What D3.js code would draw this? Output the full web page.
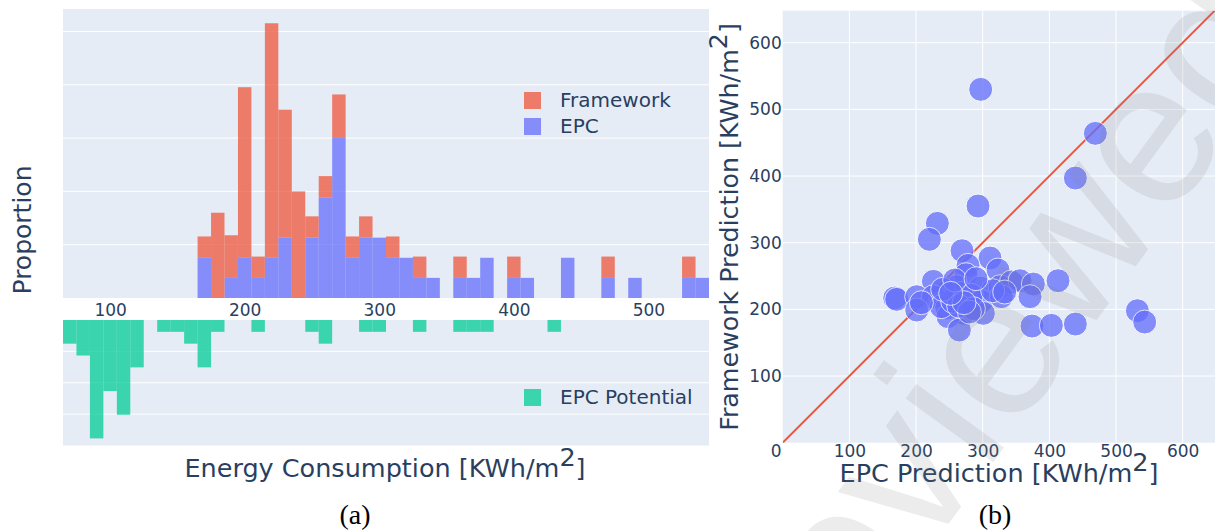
<!doctype html>
<html>
<head>
<meta charset="utf-8">
<script src="https://d3js.org/d3.v7.min.js"></script>
<style>
  body { margin: 0; background: #fff; }
  text { font-family: "DejaVu Sans", Verdana, sans-serif; fill: #2a3f5f; }
</style>
</head>
<body>
<svg id="chart" width="1215" height="531"></svg>
<script>
// histogram bins (lower edge, width 10 kWh/m2)
var binStart = [65, 75, 85, 95, 105, 115, 125, 135, 145, 155,
                165, 175, 185, 195, 205, 215, 225, 235, 245, 255,
                265, 275, 285, 295, 305, 315, 325, 335, 345, 355,
                365, 375, 385, 395, 405, 415, 425, 435, 445, 455,
                465, 475, 485, 495, 505, 515, 525, 535];
var binWidth = 10;

// counts per bin, normalised to proportions below
var epcCounts = [0, 0, 0, 0, 0, 0, 0, 0, 0, 0,
                 2, 0, 1, 2, 1, 2, 3, 0, 3, 5,
                 8, 2, 3, 3, 2, 2, 1, 1, 0, 1,
                 1, 2, 0, 1, 1, 0, 0, 2, 0, 0,
                 1, 0, 1, 0, 0, 0, 1, 1];
var frameworkCounts = [0, 0, 0, 0, 0, 0, 0, 0, 0, 0,
                       1, 4, 2, 8, 1, 11, 6, 5, 1, 1,
                       2, 1, 1, 0, 1, 0, 1, 0, 0, 1,
                       0, 0, 0, 1, 0, 0, 0, 0, 0, 0,
                       1, 0, 0, 0, 0, 0, 1, 0];
var potentialCounts = [2, 3, 10, 6, 8, 4, 0, 1, 1, 2,
                       4, 1, 0, 0, 1, 0, 0, 0, 1, 2,
                       0, 0, 1, 1, 0, 0, 1, 0, 0, 1,
                       1, 1, 0, 0, 0, 0, 1, 0, 0, 0,
                       0, 0, 0, 0, 0, 0, 0, 0];

var histTicks = [100, 200, 300, 400, 500];
var propGrid = [0.05, 0.1, 0.15, 0.2, 0.25];
var potentialGrid = [0.05, 0.1, 0.15];

// scatter: EPC prediction (x) vs framework prediction (y)
var epcPrediction = [297, 469, 439, 293, 232, 220, 269, 311, 278, 323,
                     275, 226, 261, 296, 326, 343, 356, 376, 413, 371,
                     168, 171, 201, 226, 268, 298, 328, 201, 246, 271,
                     301, 248, 265, 238, 374, 403, 439, 532, 543, 283,
                     255, 264, 286, 315, 240, 258, 290, 333, 280, 208,
                     272, 252];
var frameworkPrediction = [530, 464, 397, 355, 329, 305, 288, 277, 266, 259,
                           252, 242, 234, 232, 234, 241, 243, 238, 243, 219,
                           217, 215, 219, 219, 224, 212, 219, 199, 202, 194,
                           194, 189, 169, 204, 175, 176, 178, 198, 181, 221,
                           212, 205, 201, 228, 230, 244, 246, 226, 196, 210,
                           210, 224];
var scatterTicks = [0, 100, 200, 300, 400, 500, 600];

var svg = d3.select("#chart");
var bg = "#e5ecf6";
var red = "#EF553B", blue = "#636EFA", green = "#00CC96";

// ---------------- (a) histograms ----------------
var x = d3.scaleLinear().domain([65, 545]).range([63, 709]);
var yTop = d3.scaleLinear().domain([0, 0.2711]).range([298, 9]);
var yBot = d3.scaleLinear().domain([0, 0.2]).range([320, 445.5]);

var epcTotal = d3.sum(epcCounts),
    fwTotal = d3.sum(frameworkCounts),
    potTotal = d3.sum(potentialCounts);

var bins = binStart.map(function(s, i) {
  return {
    x0: s, x1: s + binWidth,
    epc: epcCounts[i] / epcTotal,
    fw: frameworkCounts[i] / fwTotal,
    pot: potentialCounts[i] / potTotal
  };
});

svg.append("rect").attr("x", 63).attr("y", 9).attr("width", 646).attr("height", 289).attr("fill", bg);
svg.append("rect").attr("x", 63).attr("y", 320).attr("width", 646).attr("height", 125.5).attr("fill", bg);

svg.append("g").selectAll("line").data(propGrid).enter().append("line")
  .attr("x1", 63).attr("x2", 709)
  .attr("y1", function(d) { return yTop(d); }).attr("y2", function(d) { return yTop(d); })
  .attr("stroke", "#fff").attr("stroke-width", 1);

svg.append("g").selectAll("line").data(potentialGrid).enter().append("line")
  .attr("x1", 63).attr("x2", 709)
  .attr("y1", function(d) { return yBot(d); }).attr("y2", function(d) { return yBot(d); })
  .attr("stroke", "#fff").attr("stroke-width", 1);

// stacked: EPC at the bottom, Framework on top
svg.append("g").selectAll("rect").data(bins.filter(function(d) { return d.epc > 0; }))
  .enter().append("rect")
  .attr("x", function(d) { return x(d.x0); })
  .attr("width", function(d) { return x(d.x1) - x(d.x0); })
  .attr("y", function(d) { return yTop(d.epc); })
  .attr("height", function(d) { return yTop(0) - yTop(d.epc); })
  .attr("fill", blue).attr("opacity", 0.75);

svg.append("g").selectAll("rect").data(bins.filter(function(d) { return d.fw > 0; }))
  .enter().append("rect")
  .attr("x", function(d) { return x(d.x0); })
  .attr("width", function(d) { return x(d.x1) - x(d.x0); })
  .attr("y", function(d) { return yTop(d.epc + d.fw); })
  .attr("height", function(d) { return yTop(d.epc) - yTop(d.epc + d.fw); })
  .attr("fill", red).attr("opacity", 0.75);

svg.append("g").selectAll("rect").data(bins.filter(function(d) { return d.pot > 0; }))
  .enter().append("rect")
  .attr("x", function(d) { return x(d.x0); })
  .attr("width", function(d) { return x(d.x1) - x(d.x0); })
  .attr("y", yBot(0))
  .attr("height", function(d) { return yBot(d.pot) - yBot(0); })
  .attr("fill", green).attr("opacity", 0.75);

var xAxisA = svg.append("g")
  .attr("transform", "translate(0,298)")
  .call(d3.axisBottom(x).tickValues(histTicks).tickSize(0).tickPadding(6));
xAxisA.select(".domain").remove();
xAxisA.selectAll("text").attr("font-size", 17).attr("font-family", null).attr("fill", "#2a3f5f");

svg.append("text")
  .attr("x", 385).attr("y", 477)
  .attr("text-anchor", "middle").attr("font-size", 25.5)
  .text("Energy Consumption [KWh/m")
  .call(function(t) {
    t.append("tspan").attr("dy", -11).text("2");
    t.append("tspan").attr("dy", 11).text("]");
  });

svg.append("text")
  .attr("transform", "translate(31,230) rotate(-90)")
  .attr("text-anchor", "middle").attr("font-size", 25)
  .text("Proportion");

// legends
var legA = [{ name: "Framework", color: red, y: 92 },
            { name: "EPC", color: blue, y: 118 },
            { name: "EPC Potential", color: green, y: 389 }];
var leg = svg.append("g").selectAll("g").data(legA).enter().append("g");
leg.append("rect").attr("x", 524).attr("y", function(d) { return d.y; })
  .attr("width", 17).attr("height", 17)
  .attr("fill", function(d) { return d.color; }).attr("opacity", 0.75);
leg.append("text").attr("x", 560).attr("y", function(d) { return d.y + 15; })
  .attr("font-size", 20).text(function(d) { return d.name; });

// ---------------- (b) scatter ----------------
var xs = d3.scaleLinear().domain([0, 648]).range([782.7, 1214.7]);
var ys = d3.scaleLinear().domain([0, 648]).range([442.7, 10.7]);

svg.append("clipPath").attr("id", "clipB").append("rect")
  .attr("x", 782.7).attr("y", 10.7).attr("width", 432.3).attr("height", 432);

svg.append("rect").attr("x", 782.7).attr("y", 10.7).attr("width", 432.3).attr("height", 432).attr("fill", bg);

var gridB = svg.append("g");
gridB.selectAll(".gx").data(scatterTicks.slice(1)).enter().append("line")
  .attr("x1", function(d) { return xs(d); }).attr("x2", function(d) { return xs(d); })
  .attr("y1", 10.7).attr("y2", 442.7).attr("stroke", "#fff").attr("stroke-width", 1);
gridB.selectAll(".gy").data(scatterTicks.slice(1)).enter().append("line")
  .attr("y1", function(d) { return ys(d); }).attr("y2", function(d) { return ys(d); })
  .attr("x1", 782.7).attr("x2", 1215).attr("stroke", "#fff").attr("stroke-width", 1);

var plotB = svg.append("g").attr("clip-path", "url(#clipB)");

plotB.append("line")
  .attr("x1", xs(0)).attr("y1", ys(0)).attr("x2", xs(648)).attr("y2", ys(648))
  .attr("stroke", red).attr("stroke-width", 2);

plotB.selectAll("circle").data(epcPrediction).enter().append("circle")
  .attr("cx", function(d) { return xs(d); })
  .attr("cy", function(d, i) { return ys(frameworkPrediction[i]); })
  .attr("r", 12)
  .attr("fill", blue).attr("stroke", "#fff").attr("stroke-width", 1)
  .attr("opacity", 0.75);

var xAxisB = svg.append("g")
  .attr("transform", "translate(0,442.7)")
  .call(d3.axisBottom(xs).tickValues(scatterTicks).tickSize(0).tickPadding(2));
xAxisB.select(".domain").remove();
xAxisB.selectAll("text").attr("font-size", 17).attr("font-family", null).attr("fill", "#2a3f5f")
  .attr("dx", function(d) { return d === 0 ? -7 : 0; });

var yAxisB = svg.append("g")
  .attr("transform", "translate(782.7,0)")
  .call(d3.axisLeft(ys).tickValues(scatterTicks.slice(1)).tickSize(0).tickPadding(1));
yAxisB.select(".domain").remove();
yAxisB.selectAll("text").attr("font-size", 17).attr("font-family", null).attr("fill", "#2a3f5f");

svg.append("text")
  .attr("x", 999).attr("y", 482)
  .attr("text-anchor", "middle").attr("font-size", 25.5)
  .text("EPC Prediction [KWh/m")
  .call(function(t) {
    t.append("tspan").attr("dy", -11).text("2");
    t.append("tspan").attr("dy", 11).text("]");
  });

svg.append("text")
  .attr("transform", "translate(738,227) rotate(-90)")
  .attr("text-anchor", "middle").attr("font-size", 25.3)
  .text("Framework Prediction [KWh/m")
  .call(function(t) {
    t.append("tspan").attr("dy", -11).text("2");
    t.append("tspan").attr("dy", 11).text("]");
  });

// sub-figure captions
svg.append("text").attr("x", 355).attr("y", 524).attr("text-anchor", "middle")
  .attr("font-size", 28).style("font-family", "'Liberation Serif', serif").style("fill", "#000")
  .text("(a)");
svg.append("text").attr("x", 995).attr("y", 524).attr("text-anchor", "middle")
  .attr("font-size", 28).style("font-family", "'Liberation Serif', serif").style("fill", "#000")
  .text("(b)");

// watermark
svg.append("text")
  .attr("transform", "translate(1300,40) rotate(-54)")
  .attr("text-anchor", "end")
  .attr("font-size", 205)
  .style("font-family", "'Liberation Sans', Arial, sans-serif")
  .style("fill", "rgba(128,128,128,0.15)")
  .text("Preprint not peer reviewed");
</script>
</body>
</html>
